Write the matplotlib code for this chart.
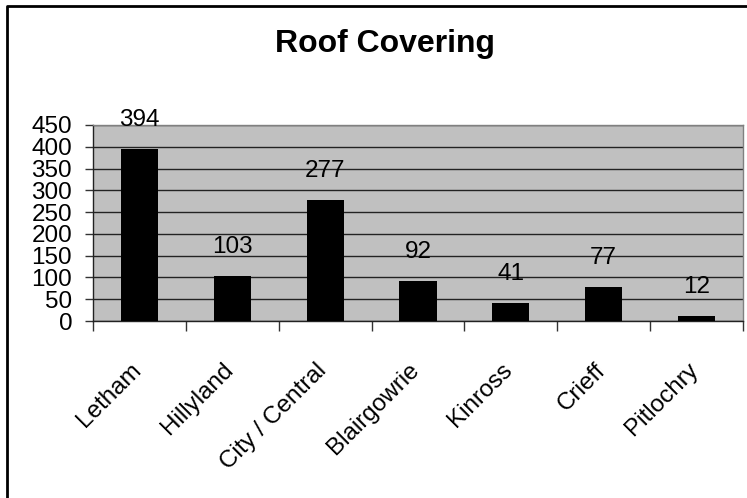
import numpy as np
import matplotlib.pyplot as plt
from matplotlib.lines import Line2D

# Roof covering counts per area
areas = ['Letham', 'Hillyland', 'City / Central', 'Blairgowrie', 'Kinross', 'Crieff', 'Pitlochry']
counts = [394, 103, 277, 92, 41, 77, 12]
yticks = [0, 50, 100, 150, 200, 250, 300, 350, 400, 450]

plt.rcParams['font.family'] = ['Liberation Sans', 'DejaVu Sans']

fig = plt.figure(figsize=(7.47, 4.98), dpi=100)
ax = fig.add_axes([0.1245, 0.3554, 0.8701, 0.3936])

x = np.arange(len(areas))
ax.bar(x, counts, width=0.4, color='black', zorder=3)

ax.set_xlim(-0.5, len(areas) - 0.5)
ax.set_ylim(0, 450)
ax.set_facecolor('#c0c0c0')

# gridlines
ax.set_yticks(yticks)
ax.set_yticklabels([str(v) for v in yticks], fontsize=17.5)
ax.yaxis.grid(True, color='#222222', linewidth=1.0, zorder=1)
ax.tick_params(axis='y', direction='out', length=6, width=1, pad=9, color='#333333')

# category boundaries get the tick marks
ax.set_xticks(np.arange(len(areas) + 1) - 0.5)
ax.set_xticklabels([])
ax.tick_params(axis='x', direction='out', length=7, width=1, color='#333333')

for side in ['left', 'bottom']:
    ax.spines[side].set_color('#222222')
    ax.spines[side].set_linewidth(1.0)
for side in ['top', 'right']:
    ax.spines[side].set_color('#808080')
    ax.spines[side].set_linewidth(1.0)

# category names, slanted
for i, name in enumerate(areas):
    ax.annotate(name, xy=(i, 0), xycoords='data', xytext=(-2, -46),
                textcoords='offset pixels', rotation=45, rotation_mode='anchor',
                ha='right', va='center', fontsize=17.5, annotation_clip=False)

# value labels above bars
for i, v in enumerate(counts):
    ax.annotate(str(v), xy=(i, v), xytext=(0, 29), textcoords='offset pixels',
                ha='center', va='center', fontsize=17.5, annotation_clip=False)

fig.text(385 / 747, 1 - 44 / 498, 'Roof Covering', ha='center', va='center',
         fontsize=23, fontweight='bold')

# chart frame (left and top edges)
x0 = 7 / 747
y0 = 1 - 6 / 498
fig.add_artist(Line2D([x0, x0, 1.01], [-0.01, y0, y0], transform=fig.transFigure,
                      color='black', linewidth=2))

fig.savefig('out.png', dpi=100)
